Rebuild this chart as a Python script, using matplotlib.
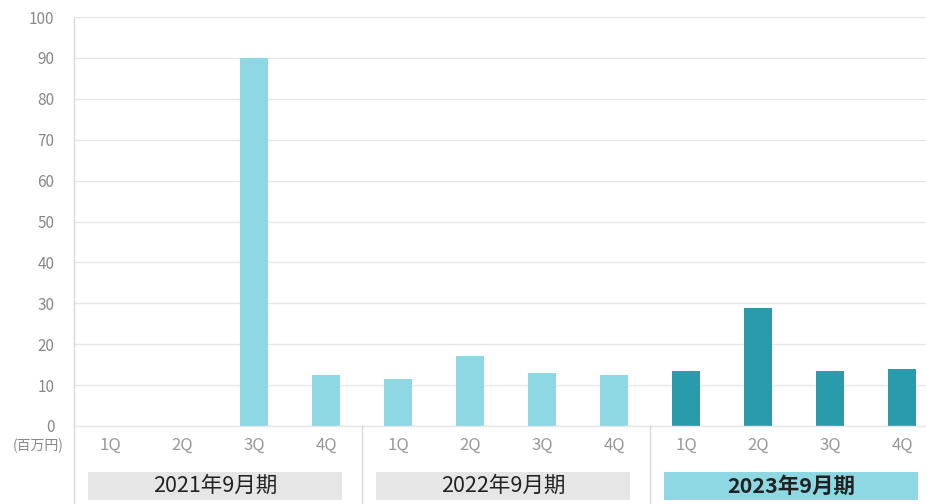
import matplotlib.pyplot as plt
import matplotlib.transforms as mtransforms
from matplotlib.patches import Rectangle
from matplotlib.lines import Line2D

plt.rcParams['font.family'] = ['Noto Sans CJK JP', 'DejaVu Sans']

# data
quarters = ['1Q', '2Q', '3Q', '4Q'] * 3
years = ['2021年9月期', '2022年9月期', '2023年9月期']
values = [0, 0, 90, 12.5, 11.5, 17, 13, 12.5, 13.4, 28.8, 13.4, 14]
yticks = [0, 10, 20, 30, 40, 50, 60, 70, 80, 90, 100]

light = '#8ed8e3'
dark = '#2a9baa'
colors = [light] * 8 + [dark] * 4

fig = plt.figure(figsize=(9.26, 5.04), dpi=100)
W, H = 926, 504
ax = fig.add_axes([74 / W, (H - 426) / H, (938 - 74) / W, (426 - 17) / H])

x = list(range(len(values)))
ax.bar(x, values, width=0.4, color=colors, zorder=3)

ax.set_xlim(-0.5, 11.5)
ax.set_ylim(0, 100)
ax.set_yticks(yticks)
ax.set_yticklabels([str(t) for t in yticks], color='#888888', fontsize=11)
ax.grid(axis='y', color='#e6e6e6', linewidth=1, zorder=0)
ax.set_xticks(x)
ax.set_xticklabels(quarters, color='#999999', fontsize=12)
ax.tick_params(axis='x', length=0, pad=8)
ax.tick_params(axis='y', length=0, pad=14)
for s in ['top', 'right', 'bottom', 'left']:
    ax.spines[s].set_visible(False)

fig.text(38 / W, 1 - 446 / H, '(百万円)', color='#888888', fontsize=10,
         ha='center', va='center')

# left line full height, group separators below the axis
trans = mtransforms.blended_transform_factory(ax.transData, fig.transFigure)
fig.add_artist(Line2D([-0.5, -0.5], [0, 1 - 17 / H], transform=trans,
                      color='#d9d9d9', linewidth=1))
fig.add_artist(Line2D([-0.5, 11.5], [1 - 426 / H, 1 - 426 / H], transform=trans,
                      color='#e6e6e6', linewidth=1))
for sx in [3.5, 7.5]:
    fig.add_artist(Line2D([sx, sx], [0, 1 - 426 / H], transform=trans,
                          color='#d9d9d9', linewidth=1))

# year boxes
for i, yr in enumerate(years):
    x0 = i * 4 - 0.3
    last = i == len(years) - 1
    fc = light if last else '#e6e6e6'
    fig.add_artist(Rectangle((x0, 1 - 500 / H), 3.52, 28 / H, transform=trans,
                             facecolor=fc, edgecolor='none'))
    fig.text(x0 + 1.76, 1 - 486 / H, yr, transform=trans, ha='center', va='center',
             fontsize=15.5, color='#222222', fontweight='bold' if last else 'normal')

fig.savefig('out.png', dpi=100)
